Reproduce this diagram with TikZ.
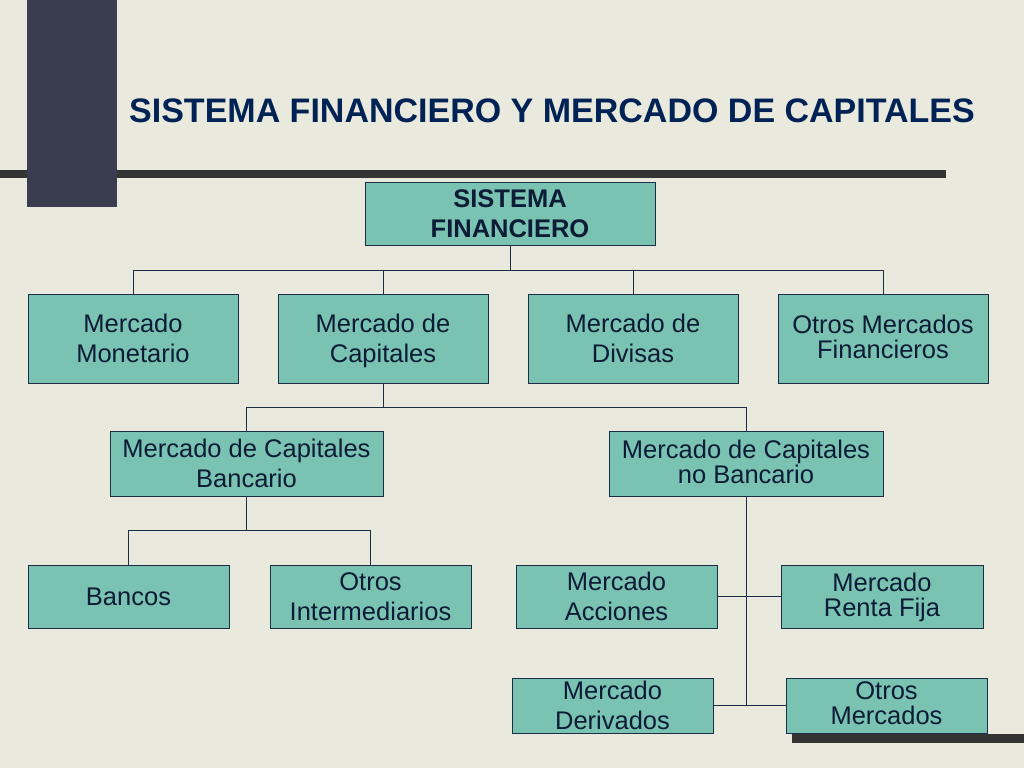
\documentclass[tikz,border=0pt]{standalone}
\usepackage{fontspec}
\setmainfont{Liberation Sans}
\usetikzlibrary{positioning}
\definecolor{slidebg}{RGB}{234, 233, 221}
\definecolor{slatedark}{RGB}{58, 61, 80}
\definecolor{bardark}{RGB}{52, 52, 52}
\definecolor{boxteal}{RGB}{122, 194, 178}
\definecolor{boxline}{RGB}{30, 45, 70}
\definecolor{inknavy}{RGB}{12, 28, 55}
\definecolor{titleblue}{RGB}{0, 34, 84}

\begin{document}
\begin{tikzpicture}[x=1pt, y=-1pt,
    block/.style={draw=boxline, fill=boxteal, line width=0.8pt, inner sep=0pt, align=center,
        text=inknavy, font=\fontsize{25.5}{30}\selectfont, text depth=0pt},
    blocktight/.style={block, font=\fontsize{25.5}{25}\selectfont, text depth=4pt},
    link/.style={draw=boxline, line width=0.8pt}
]
    \useasboundingbox (0,0) rectangle (1024,768);

    % Background
    \fill[slidebg] (0,0) rectangle (1024,768);
    \fill[bardark] (0,170) rectangle (946,178);
    \fill[slatedark] (27,0) rectangle (117,207);
    \fill[bardark] (792,734) rectangle (1024,743);

    % Title
    \node[font=\fontsize{34}{40}\selectfont\bfseries, text=titleblue] (title) at (552,111)
        {SISTEMA FINANCIERO Y MERCADO DE CAPITALES};

    % Root
    \node[block, font=\fontsize{25.5}{30}\selectfont\bfseries, minimum width=290pt, minimum height=63pt]
        (sf) at (510,213.5) {SISTEMA\\FINANCIERO};

    % Markets
    \node[block, minimum width=210pt, minimum height=89pt] (monetario) at (133,338.5) {Mercado\\Monetario};
    \node[block, minimum width=210pt, minimum height=89pt] (capitales) at (383,338.5) {Mercado de\\Capitales};
    \node[block, minimum width=210pt, minimum height=89pt] (divisas) at (633,338.5) {Mercado de\\Divisas};
    \node[blocktight, minimum width=210pt, minimum height=89pt] (otrosfin) at (883,338.5) {Otros Mercados\\Financieros};

    % Capital markets
    \node[block, minimum width=273pt, minimum height=65pt] (bancario) at (246.5,463.5) {Mercado de Capitales\\Bancario};
    \node[blocktight, minimum width=274pt, minimum height=65pt] (nobancario) at (746,463.5) {Mercado de Capitales\\no Bancario};

    % Leaves
    \node[block, minimum width=201pt, minimum height=63pt] (bancos) at (128.5,596.5) {Bancos};
    \node[block, minimum width=201pt, minimum height=63pt] (intermed) at (370.5,596.5) {Otros\\Intermediarios};
    \node[block, minimum width=201pt, minimum height=63pt] (acciones) at (616.5,596.5) {Mercado\\Acciones};
    \node[blocktight, minimum width=202pt, minimum height=63pt] (rentafija) at (882,596.5) {Mercado\\Renta Fija};
    \node[block, minimum width=201pt, minimum height=55pt] (derivados) at (612.5,705.5) {Mercado\\Derivados};
    \node[blocktight, minimum width=201pt, minimum height=55pt] (otrosmer) at (886.5,705.5) {Otros\\Mercados};

    % Junctions
    \coordinate (j1) at (510,270);
    \coordinate (j2) at (383,407);
    \coordinate (j3) at (246.5,530);
    \coordinate (j4) at (746,705.5);

    \draw[link] (sf) -- (j1);
    \draw[link] (monetario.north) |- (j1);
    \draw[link] (capitales.north) |- (j1);
    \draw[link] (divisas.north) |- (j1);
    \draw[link] (otrosfin.north) |- (j1);

    \draw[link] (capitales) -- (j2);
    \draw[link] (bancario.north) |- (j2);
    \draw[link] (nobancario.north) |- (j2);

    \draw[link] (bancario) -- (j3);
    \draw[link] (bancos.north) |- (j3);
    \draw[link] (intermed.north) |- (j3);

    \draw[link] (nobancario) -- (j4);
    \draw[link] (acciones) -- (rentafija);
    \draw[link] (derivados) -- (otrosmer);
\end{tikzpicture}
\end{document}
